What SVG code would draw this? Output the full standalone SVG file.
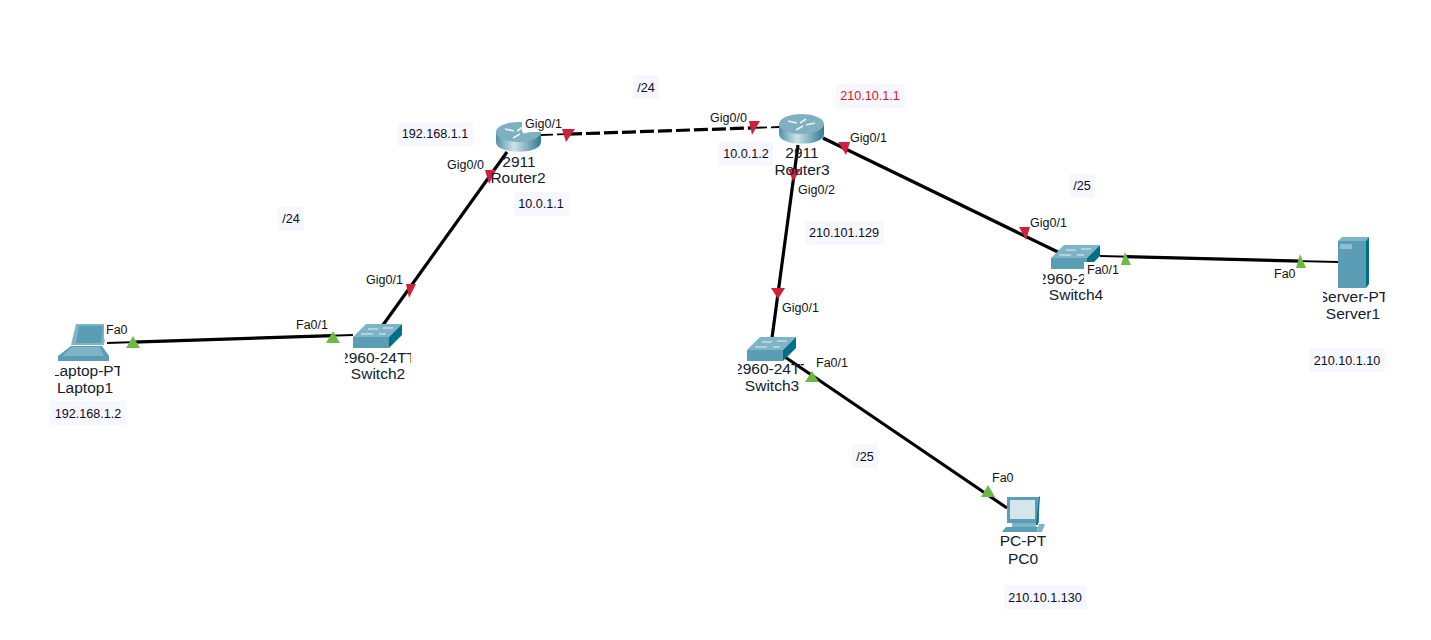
<svg xmlns="http://www.w3.org/2000/svg" width="1431" height="640" viewBox="0 0 1431 640">
<style>
text{font-family:"Liberation Sans",Arial,sans-serif;fill:#111}
.n{font-size:15.5px;text-anchor:middle;fill:#14202c}
.p{font-size:12.5px}
.a{font-size:12.6px;text-anchor:middle;fill:#0c0c20}
.bg{fill:#f7f7ff}
.l{fill:none;stroke:#000;stroke-width:3.2}
.t{fill:none;stroke:#000;stroke-width:1.8}
.r{fill:#d0213c}
.g{fill:#6cba45}
.wb{fill:#fff}
.sd{fill:#006f88}
.m{fill:#5a9db5}
.lt{fill:#7fb4c6}
</style>
<defs>
<linearGradient id="rg" x1="0" x2="1" y1="0" y2="0"><stop offset="0" stop-color="#4f93a8"/><stop offset="0.4" stop-color="#cfe3e8"/><stop offset="1" stop-color="#2f7a92"/></linearGradient>
<g id="switch">
<path class="lt" d="M0 13 L13 0 H49 L36 13Z"/>
<path class="m" d="M0 13 H36 V24 H0Z"/>
<path class="sd" d="M36 13 L49 0 V11 L36 24Z"/>
<path d="M15 5 H25 M30 4 H40 M8 10 H20 M26 10 H33" stroke="#e6f2f5" stroke-width="1" fill="none"/>
</g>
<g id="router">
<path fill="url(#rg)" d="M0 10 V20 C0 33 45 33 45 20 V10Z"/>
<ellipse cx="22.5" cy="10" rx="22.5" ry="10" fill="#7fb0c0"/>
<path d="M9 7 L18 9 M27 5 L21 9 M36 9 L27 11 M17 16 L24 12" stroke="#e6f2f5" stroke-width="1.6" fill="none"/>
</g>
<clipPath id="c1"><rect x="55" y="360" width="65" height="20"/></clipPath>
<clipPath id="c2"><rect x="345" y="348" width="66" height="20"/></clipPath>
<clipPath id="c3"><rect x="738" y="360" width="66" height="20"/></clipPath>
<clipPath id="c4"><rect x="1043" y="269" width="41" height="20"/></clipPath>
<clipPath id="c5"><rect x="1323" y="288" width="62" height="20"/></clipPath>
</defs>

<g id="connectors">
<path class="t" d="M107 343 L353 335"/>
<path class="l" d="M133 342.15 L333 335.65"/>
<path class="l" d="M507 152 L383 325"/>
<path class="t" stroke-dasharray="12 4" d="M541 135 L568 134.1"/>
<path class="l" stroke-dasharray="14 4" d="M568 134.1 L753 127.9"/>
<path class="t" stroke-dasharray="14 4" d="M753 127.9 L779 127"/>
<path class="l" d="M798 145 L772 338"/>
<path class="l" d="M823 138 L1062 254"/>
<path class="t" d="M1100 256 L1338 262"/>
<path class="l" d="M1125 256.6 L1301 261.07"/>
<path class="l" d="M785 357 L1007 508"/>
<g id="markers">
<path class="r" d="M562 129 H575 L566 142Z"/>
<path class="r" d="M749 121 H760 L752 135Z"/>
<path class="r" d="M838 142 H850 L846 155Z"/>
<path class="r" d="M788 169 H801 L793 181Z"/>
<path class="r" d="M1019 227 H1030 L1026 240Z"/>
<path class="r" d="M485 170 H496 L489 184Z"/>
<path class="r" d="M406 284 H416 L409 298Z"/>
<path class="r" d="M771 288 H785 L778 299Z"/>
<path class="g" d="M133 336 L140 348 H126Z"/>
<path class="g" d="M333 331 L340 343 H326Z"/>
<path class="g" d="M1125 252 L1131 265 H1121Z"/>
<path class="g" d="M1300 254 L1306 268 H1296Z"/>
<path class="g" d="M812 371 L819 382 H805Z"/>
<path class="g" d="M988 485 L995 497 H981Z"/>
</g>
</g>

<g id="laptop1">
<path class="lt" d="M76 324 H107 L104 345 H71Z"/>
<path class="m" d="M79 326 H103 L101 343 H76Z"/>
<path class="m" d="M71 346 H102 L109 356 V361 H58 V356Z"/>
<path class="lt" d="M72 347 H100 L104 356 H62Z"/>
<text class="n" clip-path="url(#c1)" x="87" y="376">Laptop-PT</text>
<text class="n" x="85" y="393">Laptop1</text>
</g>
<g id="switch2">
<use href="#switch" x="353" y="324"/>
<text class="n" clip-path="url(#c2)" x="378" y="363">2960-24TT</text>
<text class="n" x="378" y="379">Switch2</text>
</g>
<g id="router2">
<use href="#router" x="496" y="122"/>
<text class="n" x="519" y="167">2911</text>
<text class="n" x="518" y="183">Router2</text>
</g>
<g id="router3">
<use href="#router" x="779" y="114"/>
<text class="n" x="802" y="158">2911</text>
<text class="n" x="802" y="175">Router3</text>
</g>
<g id="switch3">
<use href="#switch" x="747" y="337"/>
<text class="n" clip-path="url(#c3)" x="772" y="374">2960-24TT</text>
<text class="n" x="772" y="391">Switch3</text>
</g>
<g id="switch4">
<use href="#switch" x="1051" y="245"/>
<text class="n" clip-path="url(#c4)" x="1076" y="284">2960-24TT</text>
<text class="n" x="1076" y="300">Switch4</text>
</g>
<g id="server1">
<path class="lt" d="M1338 241 L1342 237 H1369 L1366 241Z"/>
<path class="m" d="M1338 241 H1366 V288 H1338Z"/>
<path class="sd" d="M1366 241 L1369 237 V284 L1366 288Z"/>
<rect x="1340" y="244" width="12" height="5" fill="#8fc0d0"/>
<text class="n" clip-path="url(#c5)" x="1353" y="302">Server-PT</text>
<text class="n" x="1353" y="319">Server1</text>
</g>
<g id="pc0">
<path class="m" d="M1007 497 H1039 V523 H1007Z"/>
<path class="sd" d="M1039 497 L1040 496 L1038 525 L1036 525Z"/>
<rect x="1010" y="500" width="25" height="19" fill="#d5e5ec"/>
<path class="lt" d="M1012 523 H1036 V527 H1012Z"/>
<path class="m" d="M1006 527 H1038 L1037 532 H1002Z"/>
<path class="lt" d="M1039 524 H1045 L1042 532 H1037Z"/>
<text class="n" x="1023" y="546">PC-PT</text>
<text class="n" x="1023" y="564">PC0</text>
</g>

<g id="port-labels">
<rect class="wb" x="1084" y="262" width="28" height="20"/>
<rect class="wb" x="104" y="322" width="25" height="17"/>
<rect class="wb" x="522" y="118" width="40" height="14"/>
<text class="p" x="106" y="334">Fa0</text>
<text class="p" x="296" y="329">Fa0/1</text>
<text class="p" x="366" y="284">Gig0/1</text>
<text class="p" x="447" y="169">Gig0/0</text>
<text class="p" x="525" y="128">Gig0/1</text>
<text class="p" x="710" y="122">Gig0/0</text>
<text class="p" x="850" y="142">Gig0/1</text>
<text class="p" x="798" y="194">Gig0/2</text>
<text class="p" x="1030" y="227">Gig0/1</text>
<text class="p" x="1087" y="274">Fa0/1</text>
<text class="p" x="1274" y="278">Fa0</text>
<text class="p" x="782" y="312">Gig0/1</text>
<text class="p" x="816" y="367">Fa0/1</text>
<text class="p" x="992" y="482">Fa0</text>
</g>

<g id="notes">
<rect class="bg" x="50" y="401" width="76" height="24"/><text class="a" x="88" y="418">192.168.1.2</text>
<rect class="bg" x="397" y="122" width="76" height="24"/><text class="a" x="435" y="138">192.168.1.1</text>
<rect class="bg" x="514" y="192" width="55" height="24"/><text class="a" x="541" y="208">10.0.1.1</text>
<rect class="bg" x="633" y="75" width="26" height="24"/><text class="a" x="646" y="92">/24</text>
<rect class="bg" x="278" y="207" width="26" height="24"/><text class="a" x="291" y="223">/24</text>
<rect class="bg" x="718" y="142" width="55" height="24"/><text class="a" x="746" y="158">10.0.1.2</text>
<rect class="bg" x="836" y="84" width="69" height="24"/><text class="a" x="870" y="100" style="fill:#e8101c">210.10.1.1</text>
<rect class="bg" x="805" y="221" width="79" height="24"/><text class="a" x="844" y="237">210.101.129</text>
<rect class="bg" x="1069" y="174" width="26" height="24"/><text class="a" x="1082" y="190">/25</text>
<rect class="bg" x="1309" y="348" width="76" height="24"/><text class="a" x="1347" y="365">210.10.1.10</text>
<rect class="bg" x="852" y="444" width="26" height="24"/><text class="a" x="865" y="461">/25</text>
<rect class="bg" x="1004" y="585" width="83" height="24"/><text class="a" x="1045" y="602">210.10.1.130</text>
</g>
</svg>
